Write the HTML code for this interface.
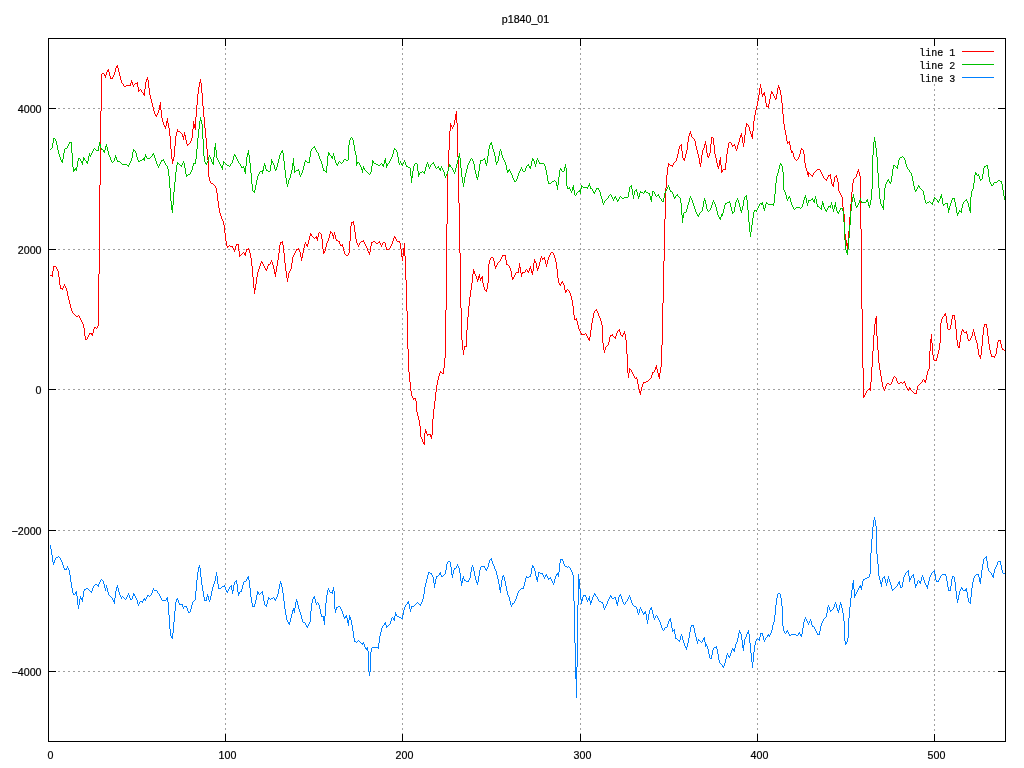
<!DOCTYPE html>
<html><head><meta charset="utf-8"><title>p1840_01</title>
<style>
html,body{margin:0;padding:0;background:#fff;}
body{width:1024px;height:768px;overflow:hidden;}
svg{display:block;}
text{font-family:"Liberation Sans",sans-serif;font-size:10.67px;fill:#000;stroke:#000;stroke-width:0.2px;}
text.k{font-family:"Liberation Mono",monospace;font-size:10px;}
</style></head><body>
<svg width="1024" height="768" viewBox="0 0 1024 768">
<rect width="1024" height="768" fill="#fff"/>
<g shape-rendering="crispEdges">
<path d="M48,671.5H1006M48,530.5H1006M48,389.5H1006M48,249.5H1006M48,108.5H1006M225.5,38V742M402.5,38V742M580.5,38V742M757.5,38V742M934.5,84V742" fill="none" stroke="#a0a0a0" stroke-width="1" stroke-dasharray="2 3"/>
<path d="M48,671.5h8M1006,671.5h-8M48,530.5h8M1006,530.5h-8M48,389.5h8M1006,389.5h-8M48,249.5h8M1006,249.5h-8M48,108.5h8M1006,108.5h-8M225.5,742v-8M225.5,38v8M402.5,742v-8M402.5,38v8M580.5,742v-8M580.5,38v8M757.5,742v-8M757.5,38v8M934.5,742v-8M934.5,38v8" fill="none" stroke="#000" stroke-width="1"/>
<path d="M50 275h2v1h-2zM52 271h1v6h-1zM53 266h1v5h-1zM54 266h2v1h-2zM56 267h1v2h-1zM57 269h1v2h-1zM58 271h1v6h-1zM59 277h1v8h-1zM60 285h1v4h-1zM61 288h1v1h-1zM62 288h1v2h-1zM63 286h1v2h-1zM64 284h1v2h-1zM65 286h1v2h-1zM66 288h1v3h-1zM67 291h1v5h-1zM68 296h1v4h-1zM69 300h1v4h-1zM70 304h1v4h-1zM71 308h1v3h-1zM72 311h1v2h-1zM73 313h1v1h-1zM74 314h1v1h-1zM75 315h1v1h-1zM76 316h2v1h-2zM78 315h1v1h-1zM79 316h1v2h-1zM80 318h1v2h-1zM81 320h1v2h-1zM82 322h1v2h-1zM83 324h1v4h-1zM84 328h1v8h-1zM85 336h1v4h-1zM86 339h1v1h-1zM87 337h1v2h-1zM88 335h1v2h-1zM89 333h1v2h-1zM90 333h1v1h-1zM91 333h1v2h-1zM92 333h1v3h-1zM93 329h1v4h-1zM94 327h1v2h-1zM95 327h1v1h-1zM96 328h1v1h-1zM97 326h1v2h-1zM98 274h1v52h-1zM99 185h1v89h-1zM100 111h1v74h-1zM101 74h1v37h-1zM102 73h2v1h-2zM104 74h1v2h-1zM105 75h1v3h-1zM106 72h1v3h-1zM107 70h1v2h-1zM108 69h1v3h-1zM109 72h1v4h-1zM110 76h1v3h-1zM111 78h1v1h-1zM112 77h1v2h-1zM113 75h1v2h-1zM114 72h1v3h-1zM115 68h1v4h-1zM116 66h1v2h-1zM117 65h1v3h-1zM118 68h1v4h-1zM119 72h1v4h-1zM120 76h1v4h-1zM121 80h1v3h-1zM122 83h1v1h-1zM123 84h1v2h-1zM124 86h2v1h-2zM126 85h4v1h-4zM130 83h1v3h-1zM131 80h1v3h-1zM132 82h1v3h-1zM133 85h1v2h-1zM134 84h1v1h-1zM135 83h2v1h-2zM137 82h1v5h-1zM138 87h1v5h-1zM139 90h1v1h-1zM140 89h1v1h-1zM141 90h1v2h-1zM142 92h1v1h-1zM143 93h1v2h-1zM144 89h1v7h-1zM145 82h1v7h-1zM146 79h1v3h-1zM147 77h1v3h-1zM148 80h1v8h-1zM149 88h1v7h-1zM150 95h1v4h-1zM151 99h1v4h-1zM152 103h1v4h-1zM153 107h1v4h-1zM154 111h1v3h-1zM155 114h1v2h-1zM156 115h1v2h-1zM157 113h1v2h-1zM158 110h1v3h-1zM159 105h1v5h-1zM160 102h1v8h-1zM161 110h1v8h-1zM162 118h1v4h-1zM163 122h1v3h-1zM164 125h1v2h-1zM165 126h1v3h-1zM166 121h1v5h-1zM167 118h1v5h-1zM168 123h1v5h-1zM169 128h1v8h-1zM170 136h1v13h-1zM171 149h1v10h-1zM172 159h1v5h-1zM173 157h1v4h-1zM174 146h1v11h-1zM175 136h1v10h-1zM176 132h1v4h-1zM177 129h1v3h-1zM178 131h2v1h-2zM180 132h1v1h-1zM181 133h1v1h-1zM182 134h1v3h-1zM183 136h1v4h-1zM184 132h1v4h-1zM185 135h1v5h-1zM186 140h1v4h-1zM187 144h1v2h-1zM188 144h1v1h-1zM189 143h1v1h-1zM190 141h1v2h-1zM191 138h1v3h-1zM192 129h1v9h-1zM193 121h1v8h-1zM194 124h1v4h-1zM195 117h1v13h-1zM196 105h1v12h-1zM197 94h1v11h-1zM198 87h1v7h-1zM199 82h1v5h-1zM200 79h1v4h-1zM201 83h1v10h-1zM202 93h1v13h-1zM203 106h1v11h-1zM204 117h1v11h-1zM205 128h1v10h-1zM206 138h1v11h-1zM207 149h1v11h-1zM208 160h1v17h-1zM209 177h1v4h-1zM210 181h1v2h-1zM211 183h2v1h-2zM213 184h1v1h-1zM214 185h1v1h-1zM215 186h1v2h-1zM216 188h1v5h-1zM217 193h1v8h-1zM218 201h1v7h-1zM219 208h1v5h-1zM220 213h1v3h-1zM221 216h1v3h-1zM222 219h1v2h-1zM223 221h1v4h-1zM224 225h1v8h-1zM225 233h1v8h-1zM226 241h1v5h-1zM227 246h1v2h-1zM228 246h1v1h-1zM229 245h1v1h-1zM230 246h2v1h-2zM232 246h1v2h-1zM233 248h1v2h-1zM234 250h1v2h-1zM235 246h1v4h-1zM236 244h1v2h-1zM237 244h1v1h-1zM238 244h1v7h-1zM239 251h1v6h-1zM240 255h1v1h-1zM241 254h1v1h-1zM242 253h1v1h-1zM243 252h1v1h-1zM244 253h1v2h-1zM245 252h1v4h-1zM246 249h1v3h-1zM247 249h1v1h-1zM248 248h1v2h-1zM249 250h1v3h-1zM250 253h1v5h-1zM251 258h1v8h-1zM252 266h1v11h-1zM253 277h1v11h-1zM254 288h1v6h-1zM255 284h1v6h-1zM256 277h1v7h-1zM257 272h1v5h-1zM258 269h1v3h-1zM259 266h1v3h-1zM260 263h1v3h-1zM261 261h1v2h-1zM262 262h1v2h-1zM263 264h1v2h-1zM264 266h1v2h-1zM265 268h1v2h-1zM266 269h1v2h-1zM267 266h1v3h-1zM268 264h1v2h-1zM269 264h1v1h-1zM270 262h1v2h-1zM271 260h1v2h-1zM272 262h1v3h-1zM273 265h1v4h-1zM274 269h1v5h-1zM275 272h1v5h-1zM276 266h1v6h-1zM277 260h1v6h-1zM278 253h1v7h-1zM279 245h1v8h-1zM280 242h1v3h-1zM281 242h1v1h-1zM282 241h1v4h-1zM283 245h1v8h-1zM284 253h1v10h-1zM285 263h1v8h-1zM286 271h1v7h-1zM287 278h1v4h-1zM288 273h1v5h-1zM289 271h1v2h-1zM290 269h1v2h-1zM291 263h1v6h-1zM292 257h1v6h-1zM293 255h1v2h-1zM294 253h1v2h-1zM295 251h1v2h-1zM296 249h1v2h-1zM297 249h1v1h-1zM298 248h1v2h-1zM299 250h1v2h-1zM300 252h1v5h-1zM301 257h1v4h-1zM302 253h1v5h-1zM303 248h1v5h-1zM304 244h1v4h-1zM305 242h1v2h-1zM306 244h1v2h-1zM307 244h1v3h-1zM308 240h1v4h-1zM309 236h1v4h-1zM310 233h1v3h-1zM311 234h1v2h-1zM312 236h1v1h-1zM313 237h1v1h-1zM314 238h1v1h-1zM315 237h1v1h-1zM316 236h1v3h-1zM317 237h1v4h-1zM318 233h1v4h-1zM319 232h1v1h-1zM320 233h1v1h-1zM321 234h1v5h-1zM322 239h1v10h-1zM323 249h1v5h-1zM324 251h1v2h-1zM325 247h1v4h-1zM326 243h1v4h-1zM327 241h1v2h-1zM328 238h1v3h-1zM329 234h1v4h-1zM330 231h1v3h-1zM331 232h1v1h-1zM332 233h1v3h-1zM333 235h1v4h-1zM334 232h1v3h-1zM335 235h1v4h-1zM336 239h1v2h-1zM337 240h1v1h-1zM338 241h1v1h-1zM339 241h1v3h-1zM340 244h1v2h-1zM341 245h1v1h-1zM342 244h1v3h-1zM343 247h1v4h-1zM344 251h1v3h-1zM345 254h1v1h-1zM346 255h2v1h-2zM348 253h1v2h-1zM349 241h1v12h-1zM350 226h1v15h-1zM351 222h1v4h-1zM352 222h1v1h-1zM353 221h1v4h-1zM354 225h1v7h-1zM355 232h1v7h-1zM356 239h1v4h-1zM357 243h1v2h-1zM358 245h1v2h-1zM359 243h1v2h-1zM360 242h1v1h-1zM361 241h2v1h-2zM363 240h1v2h-1zM364 242h1v2h-1zM365 244h1v2h-1zM366 246h1v2h-1zM367 248h1v3h-1zM368 251h1v2h-1zM369 252h1v3h-1zM370 246h1v6h-1zM371 242h1v4h-1zM372 242h1v1h-1zM373 241h2v1h-2zM375 242h1v1h-1zM376 243h2v1h-2zM378 242h1v1h-1zM379 241h1v2h-1zM380 243h1v2h-1zM381 245h1v2h-1zM382 243h1v2h-1zM383 242h2v1h-2zM385 243h1v4h-1zM386 247h1v3h-1zM387 249h2v1h-2zM389 248h1v1h-1zM390 246h1v2h-1zM391 244h1v2h-1zM392 241h1v3h-1zM393 238h1v3h-1zM394 236h1v2h-1zM395 237h1v2h-1zM396 239h1v2h-1zM397 241h2v1h-2zM399 241h1v2h-1zM400 243h1v6h-1zM401 249h1v8h-1zM402 256h1v5h-1zM403 248h1v8h-1zM404 243h1v13h-1zM405 256h1v24h-1zM406 280h1v31h-1zM407 311h1v38h-1zM408 349h1v23h-1zM409 372h1v10h-1zM410 382h1v9h-1zM411 391h1v5h-1zM412 396h1v2h-1zM413 398h1v2h-1zM414 398h1v1h-1zM415 398h1v3h-1zM416 401h1v11h-1zM417 412h1v4h-1zM418 416h1v4h-1zM419 420h1v6h-1zM420 426h1v11h-1zM421 437h1v2h-1zM422 439h1v3h-1zM423 442h1v2h-1zM424 433h1v12h-1zM425 429h1v4h-1zM426 431h1v3h-1zM427 434h1v2h-1zM428 434h2v1h-2zM430 434h1v3h-1zM431 435h1v4h-1zM432 419h1v16h-1zM433 409h1v10h-1zM434 401h1v8h-1zM435 392h1v9h-1zM436 385h1v7h-1zM437 380h1v5h-1zM438 376h1v4h-1zM439 373h1v3h-1zM440 371h1v2h-1zM441 372h1v1h-1zM442 373h1v1h-1zM443 368h1v6h-1zM444 358h1v10h-1zM445 310h1v48h-1zM446 224h1v86h-1zM447 171h1v53h-1zM448 150h1v21h-1zM449 131h1v19h-1zM450 123h1v8h-1zM451 125h1v2h-1zM452 127h1v2h-1zM453 125h1v2h-1zM454 120h1v5h-1zM455 114h1v6h-1zM456 111h1v12h-1zM457 123h1v34h-1zM458 157h1v46h-1zM459 203h1v50h-1zM460 253h1v55h-1zM461 308h1v32h-1zM462 340h1v10h-1zM463 350h1v5h-1zM464 346h1v4h-1zM465 346h1v1h-1zM466 330h1v17h-1zM467 317h1v13h-1zM468 306h1v11h-1zM469 297h1v9h-1zM470 290h1v7h-1zM471 283h1v7h-1zM472 274h1v9h-1zM473 269h1v5h-1zM474 271h1v3h-1zM475 274h1v2h-1zM476 276h1v3h-1zM477 279h1v3h-1zM478 276h1v4h-1zM479 274h1v4h-1zM480 278h1v3h-1zM481 277h1v2h-1zM482 276h1v7h-1zM483 283h1v4h-1zM484 287h1v3h-1zM485 290h1v1h-1zM486 289h1v3h-1zM487 283h1v6h-1zM488 264h1v19h-1zM489 260h1v4h-1zM490 258h1v2h-1zM491 257h2v1h-2zM493 258h1v3h-1zM494 261h1v5h-1zM495 266h1v3h-1zM496 265h1v2h-1zM497 263h1v2h-1zM498 262h1v1h-1zM499 261h1v1h-1zM500 259h1v2h-1zM501 257h1v2h-1zM502 255h1v2h-1zM503 255h2v1h-2zM505 255h1v5h-1zM506 260h1v5h-1zM507 264h1v1h-1zM508 265h1v1h-1zM509 266h1v2h-1zM510 268h1v3h-1zM511 271h1v6h-1zM512 277h1v3h-1zM513 277h1v2h-1zM514 275h1v2h-1zM515 273h1v2h-1zM516 272h2v1h-2zM518 268h1v5h-1zM519 263h1v5h-1zM520 267h1v6h-1zM521 273h1v4h-1zM522 272h1v2h-1zM523 272h2v1h-2zM525 270h1v2h-1zM526 269h1v1h-1zM527 270h1v2h-1zM528 271h1v2h-1zM529 268h1v3h-1zM530 266h1v3h-1zM531 269h1v4h-1zM532 271h1v4h-1zM533 263h1v8h-1zM534 259h1v4h-1zM535 261h1v2h-1zM536 263h1v5h-1zM537 268h1v3h-1zM538 266h1v3h-1zM539 262h1v4h-1zM540 258h1v4h-1zM541 256h1v2h-1zM542 258h1v2h-1zM543 258h1v1h-1zM544 257h1v3h-1zM545 260h1v4h-1zM546 264h1v3h-1zM547 260h1v4h-1zM548 257h1v3h-1zM549 255h1v2h-1zM550 253h1v2h-1zM551 252h2v1h-2zM553 253h1v2h-1zM554 255h1v3h-1zM555 258h1v4h-1zM556 262h1v7h-1zM557 269h1v9h-1zM558 278h1v5h-1zM559 283h1v2h-1zM560 284h1v2h-1zM561 282h1v2h-1zM562 281h1v2h-1zM563 283h1v2h-1zM564 285h1v5h-1zM565 290h1v3h-1zM566 290h1v2h-1zM567 289h1v1h-1zM568 290h1v1h-1zM569 291h1v2h-1zM570 293h1v3h-1zM571 296h1v4h-1zM572 300h1v6h-1zM573 306h1v9h-1zM574 315h1v5h-1zM575 319h1v1h-1zM576 318h1v3h-1zM577 321h1v4h-1zM578 325h1v4h-1zM579 329h1v2h-1zM580 331h1v2h-1zM581 333h1v2h-1zM582 334h3v1h-3zM585 333h1v1h-1zM586 334h1v2h-1zM587 336h1v2h-1zM588 338h1v2h-1zM589 337h1v4h-1zM590 330h1v7h-1zM591 323h1v7h-1zM592 318h1v5h-1zM593 313h1v5h-1zM594 311h1v2h-1zM595 310h1v1h-1zM596 309h1v2h-1zM597 311h1v2h-1zM598 313h1v3h-1zM599 316h1v2h-1zM600 318h1v3h-1zM601 321h1v4h-1zM602 325h1v18h-1zM603 343h1v7h-1zM604 350h1v3h-1zM605 347h1v3h-1zM606 346h1v1h-1zM607 345h1v1h-1zM608 342h1v3h-1zM609 337h1v5h-1zM610 335h1v2h-1zM611 335h1v1h-1zM612 334h1v2h-1zM613 336h1v1h-1zM614 337h1v1h-1zM615 336h1v3h-1zM616 333h1v3h-1zM617 331h1v2h-1zM618 330h1v1h-1zM619 329h1v3h-1zM620 332h1v3h-1zM621 335h1v1h-1zM622 335h1v2h-1zM623 333h1v2h-1zM624 331h1v3h-1zM625 334h1v6h-1zM626 340h1v14h-1zM627 354h1v19h-1zM628 373h1v5h-1zM629 368h1v5h-1zM630 369h1v1h-1zM631 370h1v2h-1zM632 372h1v2h-1zM633 374h1v2h-1zM634 376h1v2h-1zM635 378h1v1h-1zM636 377h1v2h-1zM637 379h1v5h-1zM638 384h1v5h-1zM639 389h1v4h-1zM640 391h1v4h-1zM641 387h1v4h-1zM642 384h1v3h-1zM643 382h1v2h-1zM644 382h2v1h-2zM646 381h2v1h-2zM648 380h1v1h-1zM649 379h1v1h-1zM650 378h1v1h-1zM651 375h1v3h-1zM652 372h1v3h-1zM653 372h1v1h-1zM654 370h1v2h-1zM655 367h1v3h-1zM656 365h1v4h-1zM657 369h1v4h-1zM658 373h1v4h-1zM659 373h1v6h-1zM660 367h1v6h-1zM661 345h1v22h-1zM662 303h1v42h-1zM663 261h1v42h-1zM664 219h1v42h-1zM665 188h1v31h-1zM666 175h1v13h-1zM667 167h1v8h-1zM668 163h1v4h-1zM669 164h1v1h-1zM670 165h2v1h-2zM672 165h1v2h-1zM673 163h1v2h-1zM674 162h1v1h-1zM675 161h1v1h-1zM676 158h1v3h-1zM677 154h1v4h-1zM678 149h1v5h-1zM679 146h1v3h-1zM680 145h1v1h-1zM681 144h1v7h-1zM682 151h1v7h-1zM683 158h1v2h-1zM684 158h1v3h-1zM685 154h1v4h-1zM686 150h1v4h-1zM687 142h1v8h-1zM688 136h1v6h-1zM689 133h1v3h-1zM690 131h1v3h-1zM691 134h1v3h-1zM692 137h1v1h-1zM693 138h1v1h-1zM694 139h1v2h-1zM695 141h1v5h-1zM696 146h1v4h-1zM697 150h1v4h-1zM698 154h1v4h-1zM699 158h1v6h-1zM700 163h1v4h-1zM701 155h1v8h-1zM702 150h1v5h-1zM703 148h1v2h-1zM704 144h1v4h-1zM705 141h1v4h-1zM706 145h1v8h-1zM707 153h1v4h-1zM708 156h1v2h-1zM709 153h1v3h-1zM710 144h1v9h-1zM711 137h1v7h-1zM712 137h1v1h-1zM713 138h1v7h-1zM714 145h1v9h-1zM715 154h1v4h-1zM716 158h1v5h-1zM717 163h1v4h-1zM718 166h1v3h-1zM719 160h1v6h-1zM720 157h1v8h-1zM721 165h1v8h-1zM722 170h1v2h-1zM723 169h2v1h-2zM725 163h1v7h-1zM726 154h1v9h-1zM727 148h1v6h-1zM728 143h1v5h-1zM729 142h2v1h-2zM731 143h1v2h-1zM732 145h1v2h-1zM733 145h1v1h-1zM734 144h1v2h-1zM735 146h1v3h-1zM736 149h1v2h-1zM737 145h1v4h-1zM738 142h1v3h-1zM739 138h1v4h-1zM740 135h1v3h-1zM741 133h1v4h-1zM742 137h1v6h-1zM743 143h1v4h-1zM744 135h1v8h-1zM745 127h1v8h-1zM746 123h1v4h-1zM747 124h1v1h-1zM748 125h1v2h-1zM749 127h1v4h-1zM750 131h1v3h-1zM751 134h1v3h-1zM752 131h1v8h-1zM753 121h1v10h-1zM754 115h1v6h-1zM755 110h1v5h-1zM756 106h1v4h-1zM757 101h1v5h-1zM758 95h1v6h-1zM759 88h1v7h-1zM760 84h1v4h-1zM761 88h1v6h-1zM762 94h1v3h-1zM763 93h1v2h-1zM764 92h1v4h-1zM765 96h1v7h-1zM766 103h1v4h-1zM767 106h1v1h-1zM768 104h1v4h-1zM769 99h1v5h-1zM770 94h1v5h-1zM771 91h1v3h-1zM772 92h1v2h-1zM773 94h1v2h-1zM774 96h1v2h-1zM775 98h1v2h-1zM776 94h1v5h-1zM777 88h1v6h-1zM778 85h1v3h-1zM779 87h1v3h-1zM780 90h1v5h-1zM781 95h1v8h-1zM782 103h1v11h-1zM783 114h1v10h-1zM784 124h1v6h-1zM785 130h1v5h-1zM786 135h1v6h-1zM787 141h1v3h-1zM788 142h1v1h-1zM789 141h1v4h-1zM790 145h1v5h-1zM791 150h1v3h-1zM792 151h1v2h-1zM793 153h1v4h-1zM794 157h1v2h-1zM795 159h1v1h-1zM796 160h1v1h-1zM797 159h1v1h-1zM798 157h1v2h-1zM799 154h1v3h-1zM800 150h1v4h-1zM801 148h1v2h-1zM802 149h1v1h-1zM803 150h1v4h-1zM804 154h1v9h-1zM805 163h1v5h-1zM806 168h1v3h-1zM807 171h1v4h-1zM808 172h1v5h-1zM809 173h1v1h-1zM810 174h1v1h-1zM811 175h1v1h-1zM812 175h1v2h-1zM813 173h1v2h-1zM814 172h1v1h-1zM815 171h1v1h-1zM816 170h1v1h-1zM817 169h3v1h-3zM820 170h1v2h-1zM821 172h1v2h-1zM822 174h1v2h-1zM823 176h1v2h-1zM824 178h1v1h-1zM825 179h1v1h-1zM826 179h1v2h-1zM827 177h1v2h-1zM828 175h1v2h-1zM829 175h1v1h-1zM830 174h1v5h-1zM831 179h1v5h-1zM832 184h1v2h-1zM833 182h1v5h-1zM834 177h1v5h-1zM835 176h1v1h-1zM836 175h1v3h-1zM837 178h1v4h-1zM838 182h1v9h-1zM839 191h1v2h-1zM840 193h1v2h-1zM841 195h1v2h-1zM842 197h1v10h-1zM843 207h1v7h-1zM844 214h1v20h-1zM845 234h1v6h-1zM846 240h1v6h-1zM847 243h1v6h-1zM848 231h1v12h-1zM849 217h1v14h-1zM850 204h1v13h-1zM851 192h1v12h-1zM852 183h1v9h-1zM853 179h1v4h-1zM854 178h1v1h-1zM855 177h1v1h-1zM856 174h1v3h-1zM857 171h1v3h-1zM858 169h1v3h-1zM859 172h1v4h-1zM860 176h1v53h-1zM861 229h1v80h-1zM862 309h1v59h-1zM863 368h1v30h-1zM864 395h1v2h-1zM865 393h1v2h-1zM866 391h1v2h-1zM867 390h1v1h-1zM868 389h1v1h-1zM869 388h1v2h-1zM870 382h1v9h-1zM871 367h1v15h-1zM872 351h1v16h-1zM873 335h1v16h-1zM874 324h1v11h-1zM875 318h1v6h-1zM876 316h1v20h-1zM877 336h1v14h-1zM878 350h1v13h-1zM879 363h1v7h-1zM880 370h1v6h-1zM881 376h1v6h-1zM882 382h1v5h-1zM883 387h1v2h-1zM884 389h1v2h-1zM885 386h1v3h-1zM886 384h1v2h-1zM887 383h2v1h-2zM889 384h2v1h-2zM891 382h1v2h-1zM892 379h1v3h-1zM893 377h1v2h-1zM894 376h1v1h-1zM895 377h1v1h-1zM896 378h1v3h-1zM897 381h1v2h-1zM898 383h2v1h-2zM900 382h2v1h-2zM902 383h1v1h-1zM903 382h1v1h-1zM904 381h1v2h-1zM905 383h1v3h-1zM906 386h1v2h-1zM907 388h1v2h-1zM908 389h1v2h-1zM909 387h1v2h-1zM910 388h1v2h-1zM911 390h1v1h-1zM912 391h1v1h-1zM913 392h1v1h-1zM914 393h2v1h-2zM916 390h1v4h-1zM917 386h1v4h-1zM918 385h1v1h-1zM919 384h1v1h-1zM920 383h1v1h-1zM921 382h1v1h-1zM922 380h1v2h-1zM923 379h1v1h-1zM924 380h1v2h-1zM925 380h1v3h-1zM926 375h1v5h-1zM927 371h1v4h-1zM928 369h1v2h-1zM929 351h1v18h-1zM930 339h1v12h-1zM931 334h1v9h-1zM932 343h1v12h-1zM933 355h1v5h-1zM934 360h2v1h-2zM936 358h1v3h-1zM937 354h1v4h-1zM938 350h1v4h-1zM939 343h1v7h-1zM940 323h1v20h-1zM941 319h1v4h-1zM942 317h1v2h-1zM943 316h1v1h-1zM944 314h1v2h-1zM945 313h1v3h-1zM946 316h1v7h-1zM947 323h1v6h-1zM948 329h2v1h-2zM950 325h1v4h-1zM951 319h1v6h-1zM952 315h1v4h-1zM953 315h1v1h-1zM954 315h1v5h-1zM955 320h1v9h-1zM956 329h1v11h-1zM957 340h1v6h-1zM958 346h1v2h-1zM959 342h1v6h-1zM960 335h1v7h-1zM961 331h1v4h-1zM962 329h1v2h-1zM963 330h1v2h-1zM964 332h2v1h-2zM966 331h1v3h-1zM967 334h1v5h-1zM968 339h1v2h-1zM969 340h1v1h-1zM970 338h1v2h-1zM971 336h1v2h-1zM972 332h1v4h-1zM973 329h1v3h-1zM974 332h1v4h-1zM975 336h1v4h-1zM976 340h1v3h-1zM977 343h1v6h-1zM978 349h1v6h-1zM979 355h1v2h-1zM980 355h1v4h-1zM981 346h1v9h-1zM982 335h1v11h-1zM983 327h1v8h-1zM984 324h1v3h-1zM985 324h1v1h-1zM986 324h1v4h-1zM987 328h1v8h-1zM988 336h1v8h-1zM989 344h1v6h-1zM990 350h1v4h-1zM991 354h1v3h-1zM992 356h2v1h-2zM994 356h1v2h-1zM995 354h1v2h-1zM996 348h1v6h-1zM997 342h1v6h-1zM998 340h1v2h-1zM999 340h1v1h-1zM1000 340h1v4h-1zM1001 344h1v4h-1zM1002 348h1v2h-1zM1003 349h1v1h-1zM1004 350h1v1h-1z" fill="#ff0000"/>
<path d="M50 149h1v1h-1zM51 148h1v1h-1zM52 143h1v5h-1zM53 138h1v5h-1zM54 138h1v1h-1zM55 139h1v2h-1zM56 141h1v4h-1zM57 145h1v5h-1zM58 150h1v4h-1zM59 154h1v3h-1zM60 157h1v3h-1zM61 160h1v2h-1zM62 159h1v4h-1zM63 153h1v6h-1zM64 149h1v4h-1zM65 148h2v1h-2zM67 146h1v2h-1zM68 144h1v2h-1zM69 142h1v2h-1zM70 142h1v1h-1zM71 142h1v11h-1zM72 153h1v14h-1zM73 167h1v5h-1zM74 169h1v2h-1zM75 168h1v2h-1zM76 167h1v4h-1zM77 161h1v6h-1zM78 158h1v3h-1zM79 158h1v1h-1zM80 159h1v2h-1zM81 161h1v2h-1zM82 161h1v4h-1zM83 157h1v4h-1zM84 158h1v2h-1zM85 160h1v1h-1zM86 161h1v2h-1zM87 161h1v3h-1zM88 156h1v5h-1zM89 153h1v3h-1zM90 155h1v2h-1zM91 153h1v2h-1zM92 151h1v2h-1zM93 149h1v2h-1zM94 148h1v1h-1zM95 149h1v1h-1zM96 150h2v1h-2zM98 146h1v5h-1zM99 142h1v4h-1zM100 144h1v4h-1zM101 148h1v2h-1zM102 149h1v1h-1zM103 150h1v2h-1zM104 150h1v3h-1zM105 146h1v4h-1zM106 144h1v3h-1zM107 147h1v4h-1zM108 151h1v4h-1zM109 155h1v2h-1zM110 157h1v3h-1zM111 160h1v2h-1zM112 162h1v1h-1zM113 161h1v1h-1zM114 158h1v3h-1zM115 155h1v3h-1zM116 157h1v3h-1zM117 160h1v2h-1zM118 161h2v1h-2zM120 162h1v1h-1zM121 163h1v1h-1zM122 164h5v1h-5zM127 165h1v1h-1zM128 165h1v2h-1zM129 163h1v2h-1zM130 161h1v2h-1zM131 158h1v3h-1zM132 152h1v6h-1zM133 149h1v3h-1zM134 150h1v1h-1zM135 151h1v2h-1zM136 153h1v4h-1zM137 157h1v3h-1zM138 160h1v2h-1zM139 161h1v1h-1zM140 160h2v1h-2zM142 159h1v1h-1zM143 158h1v2h-1zM144 157h1v4h-1zM145 154h1v3h-1zM146 156h1v2h-1zM147 158h3v1h-3zM150 157h1v1h-1zM151 156h1v1h-1zM152 154h1v2h-1zM153 153h1v2h-1zM154 155h1v3h-1zM155 158h1v3h-1zM156 161h1v3h-1zM157 164h1v2h-1zM158 166h1v2h-1zM159 164h1v2h-1zM160 162h1v2h-1zM161 160h1v2h-1zM162 160h1v1h-1zM163 159h1v2h-1zM164 161h1v2h-1zM165 163h1v2h-1zM166 165h1v1h-1zM167 166h1v3h-1zM168 169h1v7h-1zM169 176h1v12h-1zM170 188h1v13h-1zM171 201h1v9h-1zM172 205h1v8h-1zM173 192h1v13h-1zM174 182h1v10h-1zM175 172h1v10h-1zM176 165h1v7h-1zM177 162h1v3h-1zM178 163h1v1h-1zM179 164h1v1h-1zM180 165h1v1h-1zM181 165h1v2h-1zM182 163h1v2h-1zM183 161h1v2h-1zM184 163h1v5h-1zM185 168h1v6h-1zM186 174h1v3h-1zM187 175h1v1h-1zM188 174h2v1h-2zM190 172h1v2h-1zM191 170h1v2h-1zM192 166h1v4h-1zM193 163h1v3h-1zM194 163h1v1h-1zM195 159h1v5h-1zM196 149h1v10h-1zM197 138h1v11h-1zM198 129h1v9h-1zM199 121h1v8h-1zM200 117h1v4h-1zM201 120h1v4h-1zM202 124h1v15h-1zM203 139h1v17h-1zM204 156h1v6h-1zM205 162h1v2h-1zM206 163h1v2h-1zM207 161h1v2h-1zM208 157h1v4h-1zM209 155h1v2h-1zM210 157h1v2h-1zM211 159h1v3h-1zM212 162h1v2h-1zM213 157h1v8h-1zM214 147h1v10h-1zM215 143h1v7h-1zM216 150h1v8h-1zM217 158h1v2h-1zM218 160h1v2h-1zM219 162h1v2h-1zM220 164h1v2h-1zM221 166h1v2h-1zM222 165h1v5h-1zM223 161h1v4h-1zM224 162h1v1h-1zM225 163h1v1h-1zM226 164h1v1h-1zM227 165h2v1h-2zM229 166h1v1h-1zM230 164h1v2h-1zM231 163h1v1h-1zM232 160h1v3h-1zM233 156h1v4h-1zM234 154h1v2h-1zM235 155h1v2h-1zM236 157h1v2h-1zM237 159h1v2h-1zM238 161h1v2h-1zM239 163h1v1h-1zM240 164h1v2h-1zM241 166h1v2h-1zM242 167h1v1h-1zM243 166h1v2h-1zM244 168h1v4h-1zM245 166h1v8h-1zM246 157h1v9h-1zM247 153h1v4h-1zM248 150h1v5h-1zM249 155h1v8h-1zM250 163h1v10h-1zM251 173h1v11h-1zM252 184h1v7h-1zM253 191h1v1h-1zM254 190h1v3h-1zM255 185h1v5h-1zM256 180h1v5h-1zM257 176h1v4h-1zM258 174h1v2h-1zM259 172h1v2h-1zM260 171h2v1h-2zM262 170h1v4h-1zM263 166h1v5h-1zM264 163h1v3h-1zM265 165h1v4h-1zM266 169h1v2h-1zM267 170h1v1h-1zM268 171h2v1h-2zM270 165h1v6h-1zM271 159h1v6h-1zM272 161h1v2h-1zM273 163h1v2h-1zM274 165h1v4h-1zM275 169h1v2h-1zM276 167h1v3h-1zM277 163h1v4h-1zM278 159h1v4h-1zM279 155h1v4h-1zM280 153h1v2h-1zM281 151h1v2h-1zM282 150h1v3h-1zM283 153h1v8h-1zM284 161h1v9h-1zM285 170h1v8h-1zM286 178h1v6h-1zM287 184h1v3h-1zM288 180h1v4h-1zM289 178h1v2h-1zM290 174h1v4h-1zM291 170h1v4h-1zM292 163h1v7h-1zM293 158h1v8h-1zM294 166h1v7h-1zM295 171h1v1h-1zM296 170h2v1h-2zM298 169h1v2h-1zM299 171h1v4h-1zM300 175h1v2h-1zM301 173h1v2h-1zM302 170h1v3h-1zM303 166h1v4h-1zM304 162h1v4h-1zM305 160h1v2h-1zM306 161h1v1h-1zM307 162h2v1h-2zM309 157h1v6h-1zM310 151h1v6h-1zM311 149h1v2h-1zM312 148h1v1h-1zM313 147h1v1h-1zM314 146h1v2h-1zM315 148h1v2h-1zM316 150h1v2h-1zM317 152h1v1h-1zM318 153h1v3h-1zM319 156h1v3h-1zM320 159h1v2h-1zM321 161h1v3h-1zM322 164h1v4h-1zM323 168h1v3h-1zM324 170h1v1h-1zM325 171h1v1h-1zM326 166h1v7h-1zM327 156h1v10h-1zM328 152h1v4h-1zM329 153h1v2h-1zM330 155h1v1h-1zM331 156h1v2h-1zM332 156h1v3h-1zM333 153h1v3h-1zM334 156h1v4h-1zM335 160h1v3h-1zM336 163h1v2h-1zM337 164h1v2h-1zM338 162h1v2h-1zM339 161h1v1h-1zM340 162h1v1h-1zM341 163h1v1h-1zM342 162h1v1h-1zM343 160h1v2h-1zM344 159h2v1h-2zM346 160h2v1h-2zM348 145h1v15h-1zM349 140h1v5h-1zM350 138h1v2h-1zM351 137h1v1h-1zM352 138h1v2h-1zM353 140h1v5h-1zM354 145h1v6h-1zM355 151h1v4h-1zM356 155h1v11h-1zM357 162h1v2h-1zM358 162h1v1h-1zM359 163h1v2h-1zM360 165h1v2h-1zM361 167h1v3h-1zM362 169h1v4h-1zM363 166h1v3h-1zM364 168h1v2h-1zM365 170h1v1h-1zM366 171h1v1h-1zM367 172h1v1h-1zM368 173h1v1h-1zM369 174h1v1h-1zM370 172h1v2h-1zM371 166h1v6h-1zM372 160h1v6h-1zM373 161h1v2h-1zM374 163h2v1h-2zM376 164h2v1h-2zM378 165h2v1h-2zM380 164h1v1h-1zM381 163h1v1h-1zM382 164h1v2h-1zM383 164h1v3h-1zM384 160h1v4h-1zM385 158h1v5h-1zM386 163h1v5h-1zM387 164h1v2h-1zM388 163h1v1h-1zM389 161h1v2h-1zM390 159h1v2h-1zM391 157h1v2h-1zM392 154h1v3h-1zM393 150h1v4h-1zM394 148h1v2h-1zM395 149h1v1h-1zM396 150h1v2h-1zM397 152h1v5h-1zM398 157h1v6h-1zM399 163h1v2h-1zM400 161h1v2h-1zM401 163h1v2h-1zM402 164h1v2h-1zM403 162h1v2h-1zM404 160h1v2h-1zM405 162h1v3h-1zM406 165h1v2h-1zM407 166h1v1h-1zM408 167h2v1h-2zM410 168h1v8h-1zM411 176h1v7h-1zM412 171h1v7h-1zM413 166h1v5h-1zM414 164h1v2h-1zM415 163h2v1h-2zM417 164h1v7h-1zM418 171h1v6h-1zM419 173h1v2h-1zM420 172h2v1h-2zM422 171h1v1h-1zM423 172h1v1h-1zM424 171h1v3h-1zM425 167h1v4h-1zM426 164h1v3h-1zM427 162h1v2h-1zM428 164h1v3h-1zM429 167h1v2h-1zM430 165h1v2h-1zM431 164h1v1h-1zM432 163h1v1h-1zM433 162h1v2h-1zM434 164h1v2h-1zM435 166h1v2h-1zM436 168h1v1h-1zM437 167h1v1h-1zM438 166h1v2h-1zM439 168h1v2h-1zM440 168h1v3h-1zM441 166h1v2h-1zM442 168h1v2h-1zM443 170h1v2h-1zM444 172h1v4h-1zM445 176h1v2h-1zM446 174h1v2h-1zM447 171h1v3h-1zM448 167h1v4h-1zM449 164h1v3h-1zM450 165h1v2h-1zM451 167h1v1h-1zM452 168h1v2h-1zM453 170h1v2h-1zM454 172h1v2h-1zM455 168h1v4h-1zM456 164h1v4h-1zM457 160h1v4h-1zM458 156h1v4h-1zM459 153h1v5h-1zM460 158h1v10h-1zM461 168h1v9h-1zM462 177h1v6h-1zM463 183h1v4h-1zM464 177h1v6h-1zM465 173h1v4h-1zM466 169h1v4h-1zM467 165h1v4h-1zM468 163h1v2h-1zM469 161h1v2h-1zM470 159h1v2h-1zM471 158h1v1h-1zM472 159h1v2h-1zM473 161h1v3h-1zM474 164h1v6h-1zM475 170h1v4h-1zM476 174h1v4h-1zM477 177h1v3h-1zM478 171h1v6h-1zM479 164h1v7h-1zM480 160h1v4h-1zM481 160h2v1h-2zM483 159h1v1h-1zM484 158h1v2h-1zM485 160h1v4h-1zM486 163h1v3h-1zM487 156h1v7h-1zM488 149h1v7h-1zM489 145h1v4h-1zM490 143h1v2h-1zM491 142h1v3h-1zM492 145h1v4h-1zM493 149h1v3h-1zM494 152h1v4h-1zM495 156h1v6h-1zM496 162h1v3h-1zM497 161h1v2h-1zM498 156h1v5h-1zM499 151h1v5h-1zM500 149h1v2h-1zM501 151h1v4h-1zM502 155h1v3h-1zM503 158h1v2h-1zM504 160h1v2h-1zM505 162h1v3h-1zM506 165h1v5h-1zM507 170h1v3h-1zM508 170h1v2h-1zM509 169h1v2h-1zM510 171h1v2h-1zM511 173h1v2h-1zM512 175h1v3h-1zM513 178h1v2h-1zM514 180h1v2h-1zM515 181h1v1h-1zM516 179h1v2h-1zM517 176h1v3h-1zM518 173h1v3h-1zM519 171h1v2h-1zM520 169h1v2h-1zM521 167h1v2h-1zM522 169h1v2h-1zM523 171h2v1h-2zM525 168h1v3h-1zM526 166h1v2h-1zM527 165h1v1h-1zM528 164h1v2h-1zM529 166h1v2h-1zM530 166h1v3h-1zM531 161h1v5h-1zM532 158h1v3h-1zM533 159h1v2h-1zM534 161h1v3h-1zM535 164h1v3h-1zM536 160h1v4h-1zM537 158h1v2h-1zM538 160h1v2h-1zM539 162h1v2h-1zM540 163h4v1h-4zM544 164h1v2h-1zM545 166h1v4h-1zM546 170h1v5h-1zM547 175h1v6h-1zM548 181h1v3h-1zM549 183h2v1h-2zM551 182h1v1h-1zM552 181h2v1h-2zM554 180h1v1h-1zM555 181h1v1h-1zM556 182h1v4h-1zM557 185h1v5h-1zM558 177h1v8h-1zM559 170h1v7h-1zM560 168h1v2h-1zM561 169h1v2h-1zM562 171h2v1h-2zM564 167h1v4h-1zM565 164h1v4h-1zM566 168h1v18h-1zM567 186h1v3h-1zM568 188h1v1h-1zM569 187h1v2h-1zM570 189h1v2h-1zM571 191h1v2h-1zM572 187h1v4h-1zM573 185h1v5h-1zM574 190h1v5h-1zM575 195h1v1h-1zM576 193h1v2h-1zM577 192h1v1h-1zM578 191h1v1h-1zM579 190h1v2h-1zM580 189h1v5h-1zM581 185h1v4h-1zM582 186h1v1h-1zM583 187h4v1h-4zM587 187h1v2h-1zM588 185h1v2h-1zM589 183h1v3h-1zM590 186h1v3h-1zM591 188h1v1h-1zM592 189h1v2h-1zM593 191h1v2h-1zM594 192h1v2h-1zM595 190h1v2h-1zM596 188h1v2h-1zM597 188h1v1h-1zM598 188h1v2h-1zM599 190h1v2h-1zM600 192h1v4h-1zM601 196h1v3h-1zM602 199h1v4h-1zM603 203h1v2h-1zM604 201h1v2h-1zM605 200h1v1h-1zM606 199h1v1h-1zM607 198h1v1h-1zM608 196h1v2h-1zM609 195h1v1h-1zM610 194h1v1h-1zM611 195h1v2h-1zM612 197h1v2h-1zM613 199h1v2h-1zM614 197h1v2h-1zM615 196h1v2h-1zM616 198h1v2h-1zM617 200h1v2h-1zM618 199h1v2h-1zM619 197h1v2h-1zM620 196h1v1h-1zM621 197h1v1h-1zM622 198h2v1h-2zM624 197h4v1h-4zM628 192h1v5h-1zM629 187h1v5h-1zM630 186h1v1h-1zM631 185h1v4h-1zM632 189h1v6h-1zM633 195h1v4h-1zM634 191h1v4h-1zM635 190h1v1h-1zM636 189h1v3h-1zM637 192h1v4h-1zM638 196h1v3h-1zM639 193h1v4h-1zM640 191h1v2h-1zM641 192h2v1h-2zM643 193h1v1h-1zM644 191h1v2h-1zM645 190h1v2h-1zM646 192h2v1h-2zM648 193h1v1h-1zM649 193h1v3h-1zM650 196h1v4h-1zM651 196h1v6h-1zM652 191h1v5h-1zM653 191h1v1h-1zM654 192h1v2h-1zM655 194h1v2h-1zM656 196h1v1h-1zM657 195h1v1h-1zM658 194h1v2h-1zM659 196h1v2h-1zM660 198h1v1h-1zM661 199h1v2h-1zM662 201h1v1h-1zM663 198h1v4h-1zM664 193h1v5h-1zM665 191h1v2h-1zM666 189h1v2h-1zM667 187h1v2h-1zM668 185h1v2h-1zM669 187h1v3h-1zM670 190h1v2h-1zM671 191h1v1h-1zM672 192h1v2h-1zM673 194h1v3h-1zM674 197h1v2h-1zM675 196h1v2h-1zM676 195h1v1h-1zM677 194h1v2h-1zM678 196h1v1h-1zM679 197h1v1h-1zM680 198h1v5h-1zM681 203h1v12h-1zM682 215h1v8h-1zM683 213h1v5h-1zM684 212h2v1h-2zM686 209h1v3h-1zM687 205h1v4h-1zM688 202h1v3h-1zM689 198h1v4h-1zM690 196h1v2h-1zM691 198h1v2h-1zM692 200h1v3h-1zM693 203h1v3h-1zM694 206h1v3h-1zM695 209h1v3h-1zM696 212h1v2h-1zM697 214h1v2h-1zM698 215h1v2h-1zM699 213h1v2h-1zM700 212h1v1h-1zM701 211h1v1h-1zM702 207h1v4h-1zM703 201h1v6h-1zM704 198h1v3h-1zM705 200h1v4h-1zM706 204h1v5h-1zM707 209h1v2h-1zM708 211h1v1h-1zM709 210h1v1h-1zM710 208h1v2h-1zM711 205h1v3h-1zM712 202h1v3h-1zM713 200h1v2h-1zM714 202h1v2h-1zM715 204h1v3h-1zM716 207h1v4h-1zM717 211h1v4h-1zM718 215h1v2h-1zM719 217h1v2h-1zM720 217h1v3h-1zM721 214h1v3h-1zM722 213h1v3h-1zM723 209h1v4h-1zM724 205h1v4h-1zM725 203h1v2h-1zM726 203h1v1h-1zM727 202h2v1h-2zM729 201h1v2h-1zM730 203h1v4h-1zM731 207h1v4h-1zM732 211h1v3h-1zM733 212h1v1h-1zM734 207h1v5h-1zM735 202h1v5h-1zM736 200h1v2h-1zM737 198h1v2h-1zM738 200h1v3h-1zM739 203h1v4h-1zM740 207h1v4h-1zM741 210h1v3h-1zM742 206h1v4h-1zM743 200h1v6h-1zM744 197h1v3h-1zM745 196h1v1h-1zM746 195h1v5h-1zM747 200h1v10h-1zM748 210h1v12h-1zM749 222h1v10h-1zM750 232h1v5h-1zM751 225h1v7h-1zM752 218h1v7h-1zM753 212h1v6h-1zM754 210h1v2h-1zM755 210h1v1h-1zM756 210h1v2h-1zM757 208h1v2h-1zM758 206h1v2h-1zM759 204h1v2h-1zM760 203h1v1h-1zM761 203h1v2h-1zM762 202h1v3h-1zM763 205h1v4h-1zM764 208h1v3h-1zM765 204h1v4h-1zM766 202h1v2h-1zM767 203h1v1h-1zM768 204h5v1h-5zM773 203h1v3h-1zM774 194h1v9h-1zM775 183h1v11h-1zM776 176h1v7h-1zM777 173h1v3h-1zM778 169h1v4h-1zM779 165h1v4h-1zM780 163h1v2h-1zM781 164h1v2h-1zM782 166h1v6h-1zM783 172h1v18h-1zM784 190h1v2h-1zM785 192h1v3h-1zM786 195h1v4h-1zM787 199h1v2h-1zM788 197h1v2h-1zM789 196h1v2h-1zM790 198h1v4h-1zM791 202h1v3h-1zM792 205h1v2h-1zM793 207h1v2h-1zM794 209h1v1h-1zM795 208h1v1h-1zM796 207h4v1h-4zM800 208h1v1h-1zM801 207h1v1h-1zM802 204h1v3h-1zM803 200h1v4h-1zM804 197h1v3h-1zM805 195h1v3h-1zM806 198h1v5h-1zM807 203h1v3h-1zM808 200h1v3h-1zM809 200h2v1h-2zM811 199h1v1h-1zM812 198h1v2h-1zM813 200h1v2h-1zM814 199h1v4h-1zM815 196h1v3h-1zM816 199h1v5h-1zM817 204h1v3h-1zM818 206h1v1h-1zM819 207h1v1h-1zM820 208h1v1h-1zM821 205h1v5h-1zM822 201h1v4h-1zM823 203h1v4h-1zM824 207h1v2h-1zM825 209h1v2h-1zM826 210h1v2h-1zM827 208h1v2h-1zM828 206h1v2h-1zM829 206h1v1h-1zM830 205h1v3h-1zM831 202h1v3h-1zM832 205h1v4h-1zM833 209h1v3h-1zM834 205h1v4h-1zM835 202h1v5h-1zM836 207h1v4h-1zM837 211h1v2h-1zM838 212h1v2h-1zM839 210h1v2h-1zM840 208h1v2h-1zM841 208h1v1h-1zM842 208h1v3h-1zM843 211h1v11h-1zM844 222h1v18h-1zM845 240h1v10h-1zM846 250h1v3h-1zM847 249h1v6h-1zM848 238h1v11h-1zM849 225h1v13h-1zM850 211h1v14h-1zM851 202h1v9h-1zM852 197h1v5h-1zM853 194h1v4h-1zM854 198h1v4h-1zM855 202h1v4h-1zM856 206h1v2h-1zM857 205h1v2h-1zM858 203h1v2h-1zM859 200h1v3h-1zM860 198h1v3h-1zM861 201h1v2h-1zM862 202h4v1h-4zM866 200h1v2h-1zM867 199h1v3h-1zM868 202h1v4h-1zM869 205h1v3h-1zM870 200h1v5h-1zM871 189h1v11h-1zM872 155h1v34h-1zM873 142h1v13h-1zM874 137h1v5h-1zM875 141h1v7h-1zM876 148h1v9h-1zM877 157h1v16h-1zM878 173h1v15h-1zM879 188h1v11h-1zM880 199h1v5h-1zM881 204h1v2h-1zM882 206h1v2h-1zM883 200h1v10h-1zM884 188h1v12h-1zM885 184h1v4h-1zM886 182h1v2h-1zM887 180h1v2h-1zM888 179h1v2h-1zM889 181h1v2h-1zM890 182h1v2h-1zM891 176h1v6h-1zM892 169h1v7h-1zM893 165h1v4h-1zM894 165h1v1h-1zM895 166h1v1h-1zM896 167h1v1h-1zM897 165h1v4h-1zM898 160h1v5h-1zM899 158h1v2h-1zM900 157h2v1h-2zM902 156h1v1h-1zM903 157h1v1h-1zM904 158h1v2h-1zM905 160h1v4h-1zM906 164h1v3h-1zM907 167h1v2h-1zM908 169h1v1h-1zM909 170h1v2h-1zM910 172h1v1h-1zM911 173h1v3h-1zM912 176h1v5h-1zM913 181h1v5h-1zM914 186h1v4h-1zM915 190h1v2h-1zM916 189h1v2h-1zM917 187h1v2h-1zM918 185h1v2h-1zM919 186h1v2h-1zM920 188h1v1h-1zM921 189h1v1h-1zM922 190h1v1h-1zM923 191h1v4h-1zM924 195h1v5h-1zM925 200h1v3h-1zM926 203h1v1h-1zM927 202h2v1h-2zM929 201h1v1h-1zM930 202h1v1h-1zM931 203h1v1h-1zM932 202h1v3h-1zM933 199h1v3h-1zM934 197h1v2h-1zM935 198h1v1h-1zM936 199h1v1h-1zM937 200h1v2h-1zM938 201h1v2h-1zM939 199h1v2h-1zM940 196h1v3h-1zM941 194h1v4h-1zM942 198h1v6h-1zM943 204h1v2h-1zM944 204h1v1h-1zM945 203h2v1h-2zM947 203h1v5h-1zM948 208h1v5h-1zM949 206h1v4h-1zM950 203h1v3h-1zM951 200h1v3h-1zM952 198h1v2h-1zM953 198h1v1h-1zM954 198h1v4h-1zM955 202h1v5h-1zM956 207h1v6h-1zM957 213h1v3h-1zM958 212h1v2h-1zM959 210h1v2h-1zM960 211h1v1h-1zM961 208h1v5h-1zM962 204h1v4h-1zM963 202h1v2h-1zM964 201h1v1h-1zM965 200h1v1h-1zM966 199h1v2h-1zM967 201h1v2h-1zM968 203h1v4h-1zM969 207h1v4h-1zM970 197h1v16h-1zM971 191h1v6h-1zM972 189h1v2h-1zM973 183h1v6h-1zM974 175h1v8h-1zM975 172h1v3h-1zM976 173h1v2h-1zM977 175h1v1h-1zM978 174h1v2h-1zM979 176h1v3h-1zM980 179h1v2h-1zM981 179h1v1h-1zM982 174h1v5h-1zM983 168h1v6h-1zM984 166h1v2h-1zM985 166h1v1h-1zM986 165h1v1h-1zM987 165h1v4h-1zM988 169h1v8h-1zM989 177h1v5h-1zM990 182h1v2h-1zM991 184h1v2h-1zM992 185h1v1h-1zM993 183h1v2h-1zM994 182h3v1h-3zM997 181h1v1h-1zM998 180h2v1h-2zM1000 181h1v1h-1zM1001 181h1v3h-1zM1002 184h1v6h-1zM1003 190h1v6h-1zM1004 196h1v4h-1z" fill="#00c000"/>
<path d="M50 545h1v4h-1zM51 549h1v6h-1zM52 555h1v7h-1zM53 562h1v3h-1zM54 560h1v3h-1zM55 558h1v2h-1zM56 557h2v1h-2zM58 556h1v1h-1zM59 557h1v1h-1zM60 558h1v2h-1zM61 560h1v2h-1zM62 562h1v3h-1zM63 565h1v3h-1zM64 568h1v2h-1zM65 569h1v1h-1zM66 568h1v2h-1zM67 566h1v2h-1zM68 568h1v2h-1zM69 570h1v5h-1zM70 575h1v7h-1zM71 582h1v6h-1zM72 588h1v5h-1zM73 593h1v2h-1zM74 594h1v1h-1zM75 592h1v2h-1zM76 591h1v5h-1zM77 596h1v9h-1zM78 605h1v4h-1zM79 599h1v6h-1zM80 596h1v3h-1zM81 598h1v2h-1zM82 597h1v5h-1zM83 591h1v6h-1zM84 589h1v2h-1zM85 589h1v1h-1zM86 588h2v1h-2zM88 589h1v1h-1zM89 590h1v1h-1zM90 591h1v1h-1zM91 591h1v2h-1zM92 588h1v3h-1zM93 586h1v2h-1zM94 585h1v1h-1zM95 584h2v1h-2zM97 585h1v1h-1zM98 584h1v3h-1zM99 582h1v2h-1zM100 580h1v2h-1zM101 579h1v1h-1zM102 580h1v1h-1zM103 581h1v3h-1zM104 584h1v4h-1zM105 588h1v3h-1zM106 585h1v3h-1zM107 588h1v4h-1zM108 592h1v3h-1zM109 595h1v1h-1zM110 596h1v1h-1zM111 597h1v1h-1zM112 598h1v2h-1zM113 600h1v2h-1zM114 598h1v6h-1zM115 591h1v7h-1zM116 587h1v4h-1zM117 585h1v3h-1zM118 588h1v4h-1zM119 592h1v3h-1zM120 595h1v2h-1zM121 597h1v2h-1zM122 596h1v1h-1zM123 597h1v1h-1zM124 598h1v1h-1zM125 599h1v1h-1zM126 597h1v2h-1zM127 595h1v2h-1zM128 593h1v2h-1zM129 595h1v3h-1zM130 598h1v2h-1zM131 599h1v1h-1zM132 596h1v3h-1zM133 593h1v3h-1zM134 594h1v2h-1zM135 596h1v2h-1zM136 598h1v2h-1zM137 600h1v4h-1zM138 604h1v2h-1zM139 602h1v2h-1zM140 601h2v1h-2zM142 601h1v2h-1zM143 599h1v2h-1zM144 598h1v2h-1zM145 599h1v2h-1zM146 597h1v2h-1zM147 595h1v2h-1zM148 595h1v1h-1zM149 596h1v1h-1zM150 595h1v1h-1zM151 593h1v2h-1zM152 590h1v3h-1zM153 588h1v2h-1zM154 590h3v1h-3zM157 591h1v2h-1zM158 593h1v1h-1zM159 594h1v2h-1zM160 596h1v2h-1zM161 598h1v2h-1zM162 600h4v1h-4zM166 598h1v2h-1zM167 597h1v5h-1zM168 602h1v13h-1zM169 615h1v14h-1zM170 629h1v7h-1zM171 636h1v2h-1zM172 633h1v6h-1zM173 622h1v11h-1zM174 611h1v11h-1zM175 602h1v9h-1zM176 599h1v3h-1zM177 598h1v2h-1zM178 600h1v3h-1zM179 603h1v2h-1zM180 604h2v1h-2zM182 604h1v3h-1zM183 607h1v2h-1zM184 606h2v1h-2zM186 606h1v2h-1zM187 608h1v3h-1zM188 611h1v2h-1zM189 612h1v1h-1zM190 609h1v3h-1zM191 605h1v4h-1zM192 602h1v3h-1zM193 601h1v1h-1zM194 600h1v1h-1zM195 591h1v9h-1zM196 580h1v11h-1zM197 572h1v8h-1zM198 567h1v5h-1zM199 565h1v3h-1zM200 568h1v9h-1zM201 577h1v8h-1zM202 585h1v6h-1zM203 591h1v6h-1zM204 597h1v4h-1zM205 600h1v1h-1zM206 597h1v4h-1zM207 594h1v3h-1zM208 596h1v4h-1zM209 600h1v2h-1zM210 596h1v4h-1zM211 591h1v5h-1zM212 587h1v4h-1zM213 584h1v3h-1zM214 581h1v3h-1zM215 576h1v5h-1zM216 572h1v4h-1zM217 576h1v8h-1zM218 584h1v5h-1zM219 588h2v1h-2zM221 587h1v1h-1zM222 586h2v1h-2zM224 585h1v2h-1zM225 587h1v3h-1zM226 590h1v2h-1zM227 591h1v2h-1zM228 589h1v2h-1zM229 587h1v2h-1zM230 586h1v1h-1zM231 585h1v5h-1zM232 590h1v4h-1zM233 585h1v6h-1zM234 582h1v3h-1zM235 581h1v1h-1zM236 580h1v4h-1zM237 584h1v8h-1zM238 592h1v4h-1zM239 592h1v2h-1zM240 591h1v1h-1zM241 589h1v3h-1zM242 585h1v4h-1zM243 582h1v3h-1zM244 581h2v1h-2zM246 579h1v2h-1zM247 577h1v2h-1zM248 576h1v4h-1zM249 580h1v8h-1zM250 588h1v9h-1zM251 597h1v6h-1zM252 603h1v4h-1zM253 606h1v1h-1zM254 604h1v3h-1zM255 600h1v4h-1zM256 595h1v5h-1zM257 591h1v4h-1zM258 592h1v2h-1zM259 594h1v1h-1zM260 593h1v1h-1zM261 592h1v1h-1zM262 591h1v4h-1zM263 595h1v6h-1zM264 601h1v4h-1zM265 605h1v1h-1zM266 604h1v3h-1zM267 600h1v4h-1zM268 597h1v3h-1zM269 598h1v1h-1zM270 599h1v1h-1zM271 598h2v1h-2zM273 597h1v1h-1zM274 598h1v2h-1zM275 599h1v2h-1zM276 597h1v2h-1zM277 594h1v3h-1zM278 589h1v5h-1zM279 584h1v5h-1zM280 581h1v3h-1zM281 583h1v4h-1zM282 587h1v6h-1zM283 593h1v8h-1zM284 601h1v8h-1zM285 609h1v6h-1zM286 615h1v5h-1zM287 620h1v2h-1zM288 622h1v2h-1zM289 622h1v3h-1zM290 618h1v4h-1zM291 614h1v4h-1zM292 610h1v4h-1zM293 608h1v3h-1zM294 608h1v5h-1zM295 602h1v6h-1zM296 599h1v3h-1zM297 601h1v4h-1zM298 605h1v4h-1zM299 609h1v3h-1zM300 612h1v3h-1zM301 615h1v4h-1zM302 619h1v3h-1zM303 622h2v1h-2zM305 623h1v2h-1zM306 625h1v2h-1zM307 626h1v2h-1zM308 624h1v2h-1zM309 622h1v2h-1zM310 611h1v11h-1zM311 603h1v8h-1zM312 599h1v4h-1zM313 597h1v2h-1zM314 596h1v3h-1zM315 599h1v4h-1zM316 603h1v2h-1zM317 602h1v1h-1zM318 603h1v2h-1zM319 605h1v4h-1zM320 609h1v5h-1zM321 614h1v3h-1zM322 616h1v1h-1zM323 616h1v5h-1zM324 616h1v9h-1zM325 603h1v13h-1zM326 595h1v8h-1zM327 590h1v5h-1zM328 588h1v2h-1zM329 590h1v2h-1zM330 592h2v1h-2zM332 590h1v4h-1zM333 587h1v4h-1zM334 591h1v18h-1zM335 609h1v4h-1zM336 607h1v3h-1zM337 607h1v1h-1zM338 606h2v1h-2zM340 607h1v2h-1zM341 609h1v2h-1zM342 611h1v3h-1zM343 614h1v3h-1zM344 617h1v2h-1zM345 616h1v2h-1zM346 615h1v3h-1zM347 618h1v5h-1zM348 620h1v6h-1zM349 615h1v5h-1zM350 617h1v3h-1zM351 620h1v5h-1zM352 625h1v6h-1zM353 631h1v7h-1zM354 638h1v4h-1zM355 641h1v1h-1zM356 642h1v1h-1zM357 641h1v1h-1zM358 640h1v1h-1zM359 641h1v1h-1zM360 642h1v1h-1zM361 643h1v1h-1zM362 643h1v2h-1zM363 642h1v2h-1zM364 644h1v3h-1zM365 647h1v2h-1zM366 648h1v2h-1zM367 647h1v4h-1zM368 651h1v21h-1zM369 672h1v4h-1zM370 652h1v20h-1zM371 648h1v4h-1zM372 647h6v1h-6zM378 643h1v6h-1zM379 636h1v7h-1zM380 632h1v4h-1zM381 628h1v4h-1zM382 626h1v2h-1zM383 625h1v1h-1zM384 623h1v2h-1zM385 622h1v3h-1zM386 625h1v3h-1zM387 626h1v1h-1zM388 625h1v1h-1zM389 624h1v1h-1zM390 621h1v3h-1zM391 618h1v3h-1zM392 617h1v1h-1zM393 618h1v2h-1zM394 616h1v5h-1zM395 612h1v4h-1zM396 614h1v2h-1zM397 616h2v1h-2zM399 617h2v1h-2zM401 618h1v1h-1zM402 615h1v4h-1zM403 610h1v5h-1zM404 607h1v3h-1zM405 605h1v2h-1zM406 604h1v1h-1zM407 602h1v2h-1zM408 601h1v3h-1zM409 604h1v5h-1zM410 609h1v3h-1zM411 606h1v3h-1zM412 606h2v1h-2zM414 605h1v1h-1zM415 604h1v1h-1zM416 603h1v1h-1zM417 602h1v1h-1zM418 603h1v1h-1zM419 604h1v1h-1zM420 604h1v2h-1zM421 602h1v2h-1zM422 599h1v3h-1zM423 594h1v5h-1zM424 587h1v7h-1zM425 583h1v4h-1zM426 579h1v4h-1zM427 575h1v4h-1zM428 572h1v3h-1zM429 572h1v1h-1zM430 573h1v1h-1zM431 573h1v2h-1zM432 575h1v2h-1zM433 577h1v6h-1zM434 583h1v5h-1zM435 579h1v5h-1zM436 576h1v3h-1zM437 576h1v1h-1zM438 575h1v1h-1zM439 573h1v2h-1zM440 572h1v3h-1zM441 575h1v2h-1zM442 576h1v1h-1zM443 575h1v1h-1zM444 574h1v1h-1zM445 570h1v4h-1zM446 564h1v6h-1zM447 562h1v2h-1zM448 561h2v1h-2zM450 562h1v5h-1zM451 567h1v8h-1zM452 574h1v4h-1zM453 570h1v4h-1zM454 568h1v2h-1zM455 568h1v1h-1zM456 566h1v2h-1zM457 564h1v2h-1zM458 566h1v2h-1zM459 568h1v5h-1zM460 573h1v8h-1zM461 581h1v5h-1zM462 578h1v5h-1zM463 576h1v3h-1zM464 579h1v2h-1zM465 580h1v1h-1zM466 581h2v1h-2zM468 580h1v2h-1zM469 578h1v2h-1zM470 572h1v6h-1zM471 567h1v5h-1zM472 565h1v2h-1zM473 567h1v4h-1zM474 571h1v5h-1zM475 576h1v4h-1zM476 580h1v3h-1zM477 582h1v3h-1zM478 576h1v6h-1zM479 570h1v6h-1zM480 567h1v3h-1zM481 566h3v1h-3zM484 566h1v2h-1zM485 568h1v2h-1zM486 569h1v2h-1zM487 567h1v2h-1zM488 563h1v4h-1zM489 560h1v3h-1zM490 559h1v1h-1zM491 558h1v3h-1zM492 561h1v3h-1zM493 564h1v2h-1zM494 566h1v3h-1zM495 569h1v2h-1zM496 571h1v4h-1zM497 575h1v4h-1zM498 579h1v5h-1zM499 584h1v6h-1zM500 587h1v6h-1zM501 580h1v7h-1zM502 576h1v4h-1zM503 575h1v2h-1zM504 577h1v4h-1zM505 581h1v5h-1zM506 586h1v5h-1zM507 591h1v4h-1zM508 595h1v2h-1zM509 597h1v4h-1zM510 601h1v4h-1zM511 605h1v2h-1zM512 603h1v2h-1zM513 603h1v1h-1zM514 601h1v2h-1zM515 599h1v2h-1zM516 596h1v3h-1zM517 593h1v3h-1zM518 591h1v2h-1zM519 590h1v1h-1zM520 589h1v1h-1zM521 588h2v1h-2zM523 586h1v3h-1zM524 582h1v4h-1zM525 578h1v4h-1zM526 576h1v2h-1zM527 577h2v1h-2zM529 576h1v1h-1zM530 574h1v3h-1zM531 568h1v6h-1zM532 565h1v3h-1zM533 566h1v2h-1zM534 568h1v3h-1zM535 571h1v5h-1zM536 576h1v4h-1zM537 577h1v5h-1zM538 572h1v5h-1zM539 572h1v1h-1zM540 573h2v1h-2zM542 573h1v2h-1zM543 575h1v2h-1zM544 577h1v2h-1zM545 575h1v2h-1zM546 574h1v2h-1zM547 576h1v2h-1zM548 578h1v2h-1zM549 578h1v1h-1zM550 577h1v2h-1zM551 579h1v2h-1zM552 581h1v2h-1zM553 583h1v2h-1zM554 579h1v4h-1zM555 576h1v3h-1zM556 574h1v2h-1zM557 573h1v2h-1zM558 572h1v5h-1zM559 563h1v9h-1zM560 559h1v4h-1zM561 559h1v1h-1zM562 559h1v2h-1zM563 561h1v3h-1zM564 564h1v2h-1zM565 566h2v1h-2zM567 567h1v1h-1zM568 566h1v1h-1zM569 567h1v1h-1zM570 568h1v2h-1zM571 570h1v2h-1zM572 572h1v3h-1zM573 575h1v26h-1zM574 601h1v42h-1zM575 643h1v36h-1zM576 667h1v31h-1zM577 605h1v62h-1zM578 574h1v31h-1zM579 579h1v10h-1zM580 589h1v10h-1zM581 599h1v5h-1zM582 597h1v4h-1zM583 595h1v2h-1zM584 595h1v1h-1zM585 595h1v2h-1zM586 597h1v3h-1zM587 600h1v2h-1zM588 598h1v2h-1zM589 596h1v5h-1zM590 601h1v4h-1zM591 600h1v3h-1zM592 597h1v3h-1zM593 595h1v2h-1zM594 593h1v2h-1zM595 594h1v2h-1zM596 596h1v1h-1zM597 597h1v2h-1zM598 599h1v2h-1zM599 601h2v1h-2zM601 602h1v1h-1zM602 602h1v2h-1zM603 604h1v4h-1zM604 608h1v2h-1zM605 606h1v2h-1zM606 604h1v2h-1zM607 601h1v3h-1zM608 599h1v2h-1zM609 597h1v2h-1zM610 595h1v2h-1zM611 596h1v2h-1zM612 598h2v1h-2zM614 597h1v1h-1zM615 597h1v3h-1zM616 600h1v4h-1zM617 602h1v4h-1zM618 597h1v5h-1zM619 595h1v2h-1zM620 594h1v2h-1zM621 596h1v3h-1zM622 599h1v3h-1zM623 602h1v2h-1zM624 604h1v1h-1zM625 602h1v2h-1zM626 601h1v1h-1zM627 599h1v2h-1zM628 597h1v2h-1zM629 595h1v2h-1zM630 597h1v3h-1zM631 600h1v3h-1zM632 603h1v2h-1zM633 605h1v1h-1zM634 606h2v1h-2zM636 607h1v2h-1zM637 609h1v4h-1zM638 613h1v2h-1zM639 609h1v4h-1zM640 607h1v2h-1zM641 609h1v2h-1zM642 611h1v2h-1zM643 613h1v2h-1zM644 612h1v2h-1zM645 611h1v3h-1zM646 614h1v6h-1zM647 620h1v4h-1zM648 614h1v6h-1zM649 610h1v4h-1zM650 608h1v2h-1zM651 607h1v3h-1zM652 610h1v4h-1zM653 614h1v4h-1zM654 618h1v2h-1zM655 616h1v2h-1zM656 615h1v1h-1zM657 616h1v2h-1zM658 618h1v2h-1zM659 620h1v2h-1zM660 622h1v3h-1zM661 625h1v3h-1zM662 628h1v2h-1zM663 630h1v1h-1zM664 628h1v2h-1zM665 627h2v1h-2zM667 624h1v3h-1zM668 621h1v3h-1zM669 619h1v2h-1zM670 618h1v4h-1zM671 622h1v6h-1zM672 628h1v4h-1zM673 630h1v1h-1zM674 629h1v5h-1zM675 634h1v5h-1zM676 638h1v1h-1zM677 639h1v1h-1zM678 640h1v1h-1zM679 640h1v2h-1zM680 636h1v4h-1zM681 634h1v2h-1zM682 636h1v4h-1zM683 640h1v3h-1zM684 643h1v3h-1zM685 646h1v2h-1zM686 647h1v3h-1zM687 643h1v4h-1zM688 638h1v5h-1zM689 632h1v6h-1zM690 627h1v5h-1zM691 625h1v2h-1zM692 625h1v1h-1zM693 625h1v3h-1zM694 628h1v5h-1zM695 633h1v4h-1zM696 637h1v4h-1zM697 641h1v3h-1zM698 639h1v2h-1zM699 640h1v1h-1zM700 641h1v1h-1zM701 642h1v1h-1zM702 640h1v2h-1zM703 638h1v2h-1zM704 637h1v5h-1zM705 642h1v5h-1zM706 644h1v2h-1zM707 646h1v3h-1zM708 649h1v5h-1zM709 654h1v4h-1zM710 658h1v1h-1zM711 655h1v4h-1zM712 650h1v5h-1zM713 648h1v2h-1zM714 647h2v1h-2zM716 646h1v3h-1zM717 649h1v5h-1zM718 654h1v6h-1zM719 660h1v3h-1zM720 663h1v1h-1zM721 664h1v1h-1zM722 665h1v2h-1zM723 666h1v2h-1zM724 663h1v3h-1zM725 659h1v4h-1zM726 655h1v4h-1zM727 653h1v2h-1zM728 655h1v2h-1zM729 656h1v2h-1zM730 653h1v3h-1zM731 650h1v3h-1zM732 648h1v2h-1zM733 649h1v2h-1zM734 648h1v4h-1zM735 644h1v4h-1zM736 642h1v2h-1zM737 638h1v4h-1zM738 633h1v5h-1zM739 630h1v3h-1zM740 632h1v2h-1zM741 634h1v6h-1zM742 640h1v8h-1zM743 645h1v6h-1zM744 639h1v6h-1zM745 637h1v2h-1zM746 634h1v3h-1zM747 632h1v2h-1zM748 630h1v4h-1zM749 634h1v9h-1zM750 643h1v10h-1zM751 653h1v9h-1zM752 662h1v6h-1zM753 652h1v10h-1zM754 645h1v7h-1zM755 641h1v4h-1zM756 639h1v2h-1zM757 638h1v1h-1zM758 639h1v1h-1zM759 637h1v4h-1zM760 633h1v4h-1zM761 633h1v1h-1zM762 633h1v3h-1zM763 636h1v4h-1zM764 640h1v2h-1zM765 638h1v2h-1zM766 637h1v1h-1zM767 635h1v2h-1zM768 634h1v2h-1zM769 635h1v2h-1zM770 633h1v2h-1zM771 630h1v3h-1zM772 625h1v5h-1zM773 622h1v3h-1zM774 615h1v7h-1zM775 605h1v10h-1zM776 598h1v7h-1zM777 594h1v4h-1zM778 593h2v1h-2zM780 594h1v4h-1zM781 598h1v8h-1zM782 606h1v20h-1zM783 626h1v5h-1zM784 631h1v2h-1zM785 633h1v1h-1zM786 631h1v2h-1zM787 630h1v2h-1zM788 632h1v2h-1zM789 634h1v2h-1zM790 635h1v1h-1zM791 634h5v1h-5zM796 635h2v1h-2zM798 633h1v2h-1zM799 632h1v2h-1zM800 634h1v2h-1zM801 634h1v3h-1zM802 628h1v6h-1zM803 622h1v6h-1zM804 619h1v3h-1zM805 617h1v2h-1zM806 619h1v2h-1zM807 621h1v2h-1zM808 623h1v2h-1zM809 621h1v2h-1zM810 619h1v2h-1zM811 621h1v4h-1zM812 625h1v2h-1zM813 626h1v1h-1zM814 627h1v2h-1zM815 629h1v2h-1zM816 631h1v2h-1zM817 633h1v2h-1zM818 634h1v1h-1zM819 631h1v4h-1zM820 626h1v5h-1zM821 623h1v3h-1zM822 621h1v2h-1zM823 619h1v2h-1zM824 618h1v1h-1zM825 617h1v1h-1zM826 613h1v4h-1zM827 607h1v6h-1zM828 605h1v2h-1zM829 607h1v3h-1zM830 610h1v2h-1zM831 610h1v1h-1zM832 609h1v1h-1zM833 607h1v2h-1zM834 604h1v3h-1zM835 602h1v2h-1zM836 604h1v4h-1zM837 608h1v3h-1zM838 610h1v3h-1zM839 605h1v5h-1zM840 602h1v3h-1zM841 604h1v4h-1zM842 608h1v5h-1zM843 613h1v8h-1zM844 621h1v20h-1zM845 641h1v4h-1zM846 642h1v2h-1zM847 638h1v4h-1zM848 618h1v20h-1zM849 607h1v11h-1zM850 598h1v9h-1zM851 590h1v8h-1zM852 583h1v7h-1zM853 580h1v9h-1zM854 589h1v9h-1zM855 594h1v2h-1zM856 592h1v2h-1zM857 590h1v2h-1zM858 588h1v2h-1zM859 586h1v2h-1zM860 585h1v3h-1zM861 586h1v4h-1zM862 581h1v5h-1zM863 579h1v2h-1zM864 579h1v1h-1zM865 578h2v1h-2zM867 577h2v1h-2zM869 574h1v3h-1zM870 553h1v21h-1zM871 539h1v14h-1zM872 527h1v12h-1zM873 520h1v7h-1zM874 517h1v3h-1zM875 520h1v6h-1zM876 526h1v28h-1zM877 554h1v10h-1zM878 564h1v12h-1zM879 576h1v4h-1zM880 580h1v4h-1zM881 582h1v5h-1zM882 578h1v4h-1zM883 577h1v1h-1zM884 576h1v3h-1zM885 579h1v4h-1zM886 583h1v3h-1zM887 579h1v4h-1zM888 576h1v3h-1zM889 579h1v3h-1zM890 582h1v3h-1zM891 585h1v4h-1zM892 589h1v2h-1zM893 589h1v1h-1zM894 588h1v1h-1zM895 587h1v1h-1zM896 586h1v1h-1zM897 584h1v2h-1zM898 582h1v2h-1zM899 581h1v4h-1zM900 585h1v3h-1zM901 587h1v1h-1zM902 582h1v5h-1zM903 577h1v5h-1zM904 575h1v2h-1zM905 573h1v2h-1zM906 572h1v1h-1zM907 571h1v1h-1zM908 570h1v6h-1zM909 576h1v6h-1zM910 578h1v2h-1zM911 576h1v2h-1zM912 575h1v1h-1zM913 574h1v4h-1zM914 578h1v6h-1zM915 584h1v4h-1zM916 584h1v2h-1zM917 581h1v3h-1zM918 580h1v1h-1zM919 581h1v2h-1zM920 581h1v3h-1zM921 577h1v4h-1zM922 575h1v2h-1zM923 577h1v3h-1zM924 580h1v3h-1zM925 583h1v2h-1zM926 585h1v2h-1zM927 585h1v4h-1zM928 581h1v4h-1zM929 577h1v4h-1zM930 575h1v2h-1zM931 573h1v2h-1zM932 572h1v1h-1zM933 571h1v1h-1zM934 570h1v4h-1zM935 574h1v6h-1zM936 580h1v2h-1zM937 581h1v1h-1zM938 580h1v2h-1zM939 578h1v2h-1zM940 576h1v2h-1zM941 575h1v1h-1zM942 574h3v1h-3zM945 574h1v2h-1zM946 576h1v5h-1zM947 581h1v6h-1zM948 587h1v4h-1zM949 590h1v1h-1zM950 586h1v5h-1zM951 579h1v7h-1zM952 576h1v3h-1zM953 576h1v1h-1zM954 577h1v5h-1zM955 582h1v9h-1zM956 591h1v8h-1zM957 599h1v4h-1zM958 595h1v5h-1zM959 591h1v4h-1zM960 589h1v2h-1zM961 587h1v2h-1zM962 588h1v2h-1zM963 590h2v1h-2zM965 589h1v2h-1zM966 588h1v4h-1zM967 592h1v6h-1zM968 598h1v4h-1zM969 602h1v1h-1zM970 597h1v7h-1zM971 588h1v9h-1zM972 582h1v6h-1zM973 578h1v4h-1zM974 576h1v2h-1zM975 575h1v1h-1zM976 574h2v1h-2zM978 574h1v3h-1zM979 577h1v5h-1zM980 578h1v6h-1zM981 570h1v8h-1zM982 564h1v6h-1zM983 559h1v5h-1zM984 558h1v1h-1zM985 557h1v1h-1zM986 556h1v5h-1zM987 561h1v7h-1zM988 568h1v3h-1zM989 571h1v1h-1zM990 572h1v1h-1zM991 573h1v2h-1zM992 575h1v2h-1zM993 573h1v5h-1zM994 569h1v4h-1zM995 567h1v2h-1zM996 565h1v2h-1zM997 562h1v3h-1zM998 561h2v1h-2zM1000 561h1v4h-1zM1001 565h1v5h-1zM1002 570h1v3h-1zM1003 573h2v1h-2z" fill="#0080ff"/>
<path d="M962,51.5H994" fill="none" stroke="#ff0000"/><path d="M962,64.5H994" fill="none" stroke="#00c000"/><path d="M962,77.5H994" fill="none" stroke="#0080ff"/>
<path d="M48.5,38.5H1005.5V741.5H48.5Z" fill="none" stroke="#000" stroke-width="1"/>
</g>
<g style="filter:grayscale(1)">
<text x="525.5" y="23" text-anchor="middle">p1840_01</text>
<text x="41.5" y="676" text-anchor="end">−4000</text>
<text x="41.5" y="535" text-anchor="end">−2000</text>
<text x="41.5" y="394" text-anchor="end">0</text>
<text x="41.5" y="254" text-anchor="end">2000</text>
<text x="41.5" y="113" text-anchor="end">4000</text>
<text x="50.5" y="759" text-anchor="middle">0</text>
<text x="227.5" y="759" text-anchor="middle">100</text>
<text x="404.5" y="759" text-anchor="middle">200</text>
<text x="582.5" y="759" text-anchor="middle">300</text>
<text x="759.5" y="759" text-anchor="middle">400</text>
<text x="936.5" y="759" text-anchor="middle">500</text>
<text class="k" transform="translate(955.3,56) scale(1,1.05)" text-anchor="end">line 1</text>
<text class="k" transform="translate(955.3,69) scale(1,1.05)" text-anchor="end">line 2</text>
<text class="k" transform="translate(955.3,82) scale(1,1.05)" text-anchor="end">line 3</text>
</g>
</svg>
</body></html>
